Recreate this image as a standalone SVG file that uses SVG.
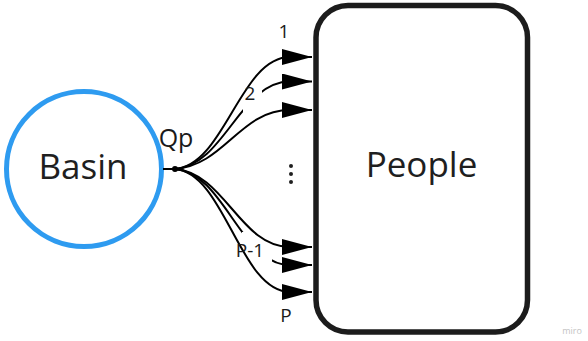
<svg xmlns="http://www.w3.org/2000/svg" width="588" height="341" viewBox="0 0 588 341">
  <style>
    .node-label { font-family: "Open Sans", "Noto Sans", sans-serif; font-size: 35px; fill: #1f1f1f; text-anchor: middle; }
    .edge-label { font-family: "Open Sans", "Noto Sans", sans-serif; font-size: 19px; fill: #1a1a1a; text-anchor: middle; }
    .flow { fill: none; stroke: #000; stroke-width: 2; marker-end: url(#head); }
  </style>
  <defs>
    <marker id="head" markerUnits="userSpaceOnUse" markerWidth="30" markerHeight="16" refX="30" refY="8" orient="auto">
      <path d="M0,0 L30,8 L0,16 Z" fill="#000"/>
    </marker>
    <!-- gaps in connectors where their labels sit -->
    <mask id="gap2" maskUnits="userSpaceOnUse" x="0" y="0" width="588" height="341">
      <rect x="0" y="0" width="588" height="341" fill="#fff"/>
      <rect x="243" y="84" width="19" height="28" fill="#000"/>
    </mask>
    <mask id="gapP1" maskUnits="userSpaceOnUse" x="0" y="0" width="588" height="341">
      <rect x="0" y="0" width="588" height="341" fill="#fff"/>
      <rect x="242" y="232" width="30" height="31" fill="#000"/>
    </mask>
  </defs>

  <g id="basin">
    <circle cx="84" cy="169" r="77.5" fill="#fff" stroke="#2e9bf0" stroke-width="5"/>
    <text class="node-label" x="83" y="179">Basin</text>
  </g>

  <g id="people">
    <rect x="316" y="5.5" width="211.5" height="326.5" rx="32" ry="32" fill="#fff" stroke="#1c1c1c" stroke-width="5.5"/>
    <text class="node-label" x="421.5" y="177">People</text>
  </g>

  <g id="connectors">
    <line x1="163" y1="169" x2="175" y2="169" stroke="#000" stroke-width="2"/>
    <circle cx="175" cy="169" r="3" fill="#000"/>
    <path class="flow" d="M175,169 C225,165 240,57 290,57 L312,57"/>
    <path class="flow" mask="url(#gap2)" d="M175,169 C225,165 240,81.5 290,81.5 L312,81.5"/>
    <path class="flow" d="M175,169 C225,165 240,110 290,110 L312,110"/>
    <path class="flow" d="M175,169 C225,173 240,247 290,247 L312,247"/>
    <path class="flow" mask="url(#gapP1)" d="M175,169 C225,173 240,265 290,265 L312,265"/>
    <path class="flow" d="M175,169 C225,173 240,292 290,292 L312,292"/>
  </g>

  <g id="labels">
    <text class="edge-label" x="176" y="147" style="font-size:25px">Qp</text>
    <text class="edge-label" x="284" y="38">1</text>
    <text class="edge-label" x="250" y="100">2</text>
    <text class="edge-label" x="250" y="257">P-1</text>
    <text class="edge-label" x="286" y="322">P</text>
    <circle cx="291" cy="166" r="2" fill="#1f1f1f"/>
    <circle cx="291" cy="174" r="2" fill="#1f1f1f"/>
    <circle cx="291" cy="182" r="2" fill="#1f1f1f"/>
  </g>

  <text x="572" y="334" font-family="Open Sans, sans-serif" font-size="9" fill="#c4c4c4" text-anchor="middle">miro</text>
</svg>
